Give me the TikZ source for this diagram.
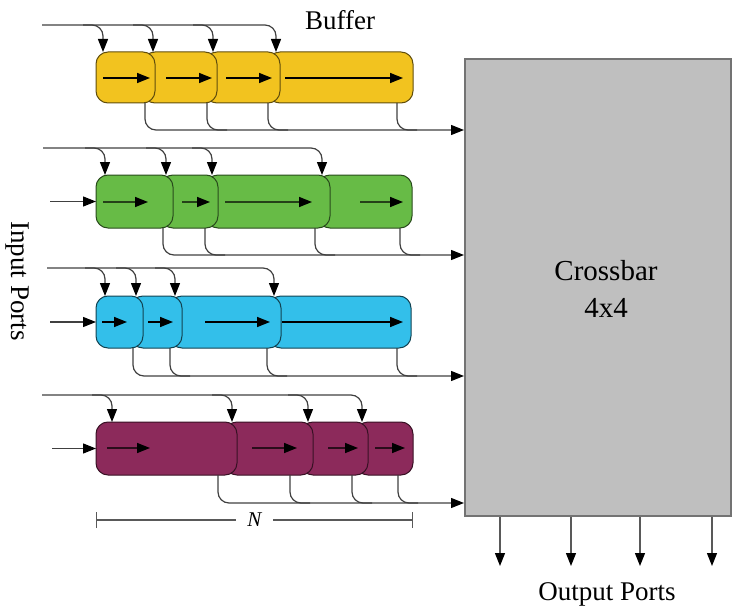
\documentclass[tikz,border=0pt]{standalone}
\usepackage{fontspec}
\setmainfont{Liberation Serif}
\usetikzlibrary{arrows.meta}
\tikzset{>={Triangle[length=13pt,width=10pt,black]}}
\definecolor{bufyellow}{HTML}{F2C31F}
\definecolor{bufgreen}{HTML}{67BB46}
\definecolor{bufcyan}{HTML}{33BFEA}
\definecolor{bufpurple}{HTML}{8C2A5B}
\tikzset{
  seg/.style={draw, rounded corners=12pt, line width=1pt, inner sep=0pt, outer sep=0pt},
  wire/.style={line width=1.2pt, draw=black!75, rounded corners=11pt},
  flow/.style={-{Triangle[length=13pt,width=10pt,black]}, line width=1.5pt},
  portarrow/.style={-{Triangle[length=13pt,width=10pt,black]}, line width=1.3pt, draw=black!65},
  label/.style={font=\fontsize{27}{30}\selectfont},
}

\begin{document}
\begin{tikzpicture}[x=1pt, y=-1pt]
  \useasboundingbox (0,0) rectangle (737,610);

  % switch
  \node[draw=black!55, fill=gray!50, line width=2pt, minimum width=266pt,
        minimum height=457pt] (xbar) at (598,287.5) {};
  \node[align=center, font=\fontsize{29}{37}\selectfont] (xbarlabel) at (606,289) {Crossbar\\4x4};
  \foreach \x in {500,571,640,712}
    \draw[portarrow] (\x,0 |- xbar.south) -- (\x,566);

  % first queue
  \node[seg, fill=bufyellow, draw=bufyellow!40!black, minimum width=145pt, minimum height=51pt] (a4) at (340.5,77.5) {};
  \node[seg, fill=bufyellow, draw=bufyellow!40!black, minimum width=75pt, minimum height=51pt] (a3) at (242.5,77.5) {};
  \node[seg, fill=bufyellow, draw=bufyellow!40!black, minimum width=74pt, minimum height=51pt] (a2) at (180,77.5) {};
  \node[seg, fill=bufyellow, draw=bufyellow!40!black, minimum width=59pt, minimum height=51pt] (a1) at (125.5,77.5) {};
  \draw[flow] (103,78) -- (150,78);
  \draw[flow] (166,78) -- (212,78);
  \draw[flow] (226,78) -- (272,78);
  \draw[flow] (285,78) -- (403,78);
  \draw[wire, ->] (42,25) -| (276,0 |- a1.north);
  \foreach \x in {103,153,213}
    \draw[wire, ->] (\x-20,25) -| (\x,0 |- a1.north);
  \draw[wire, ->] (145,0 |- a1.south) |- (xbar.west |- 0,130);
  \foreach \x in {207,268,397}
    \draw[wire] (\x,0 |- a1.south) |- (\x+20,130);

  % second queue
  \node[seg, fill=bufgreen, draw=bufgreen!40!black, minimum width=94pt, minimum height=53pt] (b4) at (365,201.5) {};
  \node[seg, fill=bufgreen, draw=bufgreen!40!black, minimum width=124pt, minimum height=53pt] (b3) at (268,201.5) {};
  \node[seg, fill=bufgreen, draw=bufgreen!40!black, minimum width=57pt, minimum height=53pt] (b2) at (189.5,201.5) {};
  \node[seg, fill=bufgreen, draw=bufgreen!40!black, minimum width=77pt, minimum height=53pt] (b1) at (134.5,201.5) {};
  \draw[flow, draw=bufgreen!35!black] (103,202) -- (148,202);
  \draw[flow, draw=bufgreen!35!black] (182,202) -- (210,202);
  \draw[flow, draw=bufgreen!35!black] (225,202) -- (312,202);
  \draw[flow, draw=bufgreen!35!black] (360,202) -- (403,202);
  \draw[wire, ->] ([xshift=-46pt]b1.west) -- (b1.west);
  \draw[wire, ->] (43,148) -| (322,0 |- b1.north);
  \foreach \x in {105,166,212}
    \draw[wire, ->] (\x-20,148) -| (\x,0 |- b1.north);
  \draw[wire, ->] (163,0 |- b1.south) |- (xbar.west |- 0,255);
  \foreach \x in {205,315,400}
    \draw[wire] (\x,0 |- b1.south) |- (\x+20,255);

  % third queue
  \node[seg, fill=bufcyan, draw=bufcyan!35!black, minimum width=142pt, minimum height=52pt] (c4) at (340,322) {};
  \node[seg, fill=bufcyan, draw=bufcyan!35!black, minimum width=111pt, minimum height=52pt] (c3) at (225.5,322) {};
  \node[seg, fill=bufcyan, draw=bufcyan!35!black, minimum width=51pt, minimum height=52pt] (c2) at (156.5,322) {};
  \node[seg, fill=bufcyan, draw=bufcyan!35!black, minimum width=47pt, minimum height=52pt] (c1) at (119.5,322) {};
  \draw[flow] (102,322) -- (127,322);
  \draw[flow] (148,322) -- (173,322);
  \draw[flow] (205,322) -- (270,322);
  \draw[flow] (282,322) -- (403,322);
  \draw[wire, ->] ([xshift=-46pt]c1.west) -- (c1.west);
  \draw[wire, ->] (47,268) -| (274,0 |- c1.north);
  \foreach \x in {105,136,175}
    \draw[wire, ->] (\x-20,268) -| (\x,0 |- c1.north);
  \draw[wire, ->] (133,0 |- c1.south) |- (xbar.west |- 0,376);
  \foreach \x in {170,267,397}
    \draw[wire] (\x,0 |- c1.south) |- (\x+20,376);

  % fourth queue
  \node[seg, fill=bufpurple, draw=bufpurple!40!black, minimum width=57pt, minimum height=53pt] (d4) at (384.5,448.5) {};
  \node[seg, fill=bufpurple, draw=bufpurple!40!black, minimum width=67pt, minimum height=53pt] (d3) at (334.5,448.5) {};
  \node[seg, fill=bufpurple, draw=bufpurple!40!black, minimum width=88pt, minimum height=53pt] (d2) at (269,448.5) {};
  \node[seg, fill=bufpurple, draw=bufpurple!40!black, minimum width=141pt, minimum height=53pt] (d1) at (166.5,448.5) {};
  \draw[flow, draw=bufpurple!30!black] (107,448) -- (150,448);
  \draw[flow, draw=bufpurple!30!black] (252,448) -- (297,448);
  \draw[flow, draw=bufpurple!30!black] (328,448) -- (358,448);
  \draw[flow, draw=bufpurple!30!black] (375,448) -- (405,448);
  \draw[wire, ->] ([xshift=-44pt]d1.west) -- (d1.west);
  \draw[wire, ->] (42,395) -| (362,0 |- d1.north);
  \foreach \x in {112,232,308}
    \draw[wire, ->] (\x-20,395) -| (\x,0 |- d1.north);
  \draw[wire, ->] (218,0 |- d1.south) |- (xbar.west |- 0,503);
  \foreach \x in {290,352,398}
    \draw[wire] (\x,0 |- d1.south) |- (\x+20,503);

  % queue length
  \draw[{Bar[width=16pt]}-{Bar[width=16pt]}, line width=1.2pt, draw=black!65]
    (d1.south west |- 0,520) -- (d4.south east |- 0,520)
    node[midway, fill=white, inner xsep=11pt, inner ysep=2pt,
         font=\fontsize{21}{24}\selectfont\itshape] (nlabel) {N};

  % labels
  \node[label, anchor=base] (buflabel) at (340,30) {Buffer};
  \node[label, rotate=-90] (inlabel) at (17,281) {Input Ports};
  \node[label, anchor=base] (outlabel) at (607,600) {Output Ports};
\end{tikzpicture}
\end{document}
